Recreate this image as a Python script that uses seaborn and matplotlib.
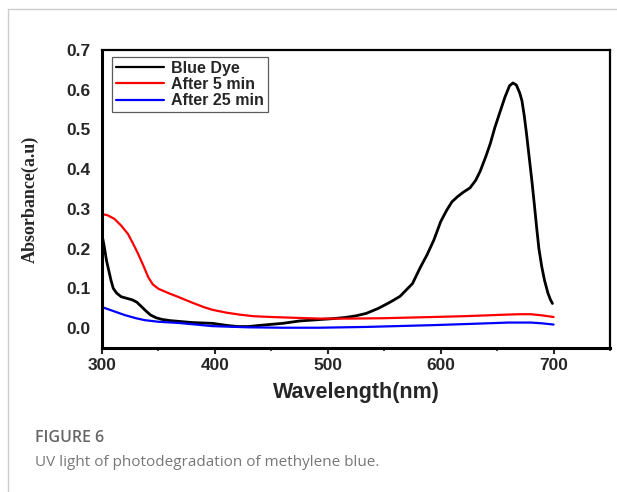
import numpy as np
import pandas as pd
import matplotlib
matplotlib.use("Agg")
import matplotlib.pyplot as plt
from matplotlib.lines import Line2D
from matplotlib.ticker import MultipleLocator, FormatStrFormatter
import seaborn as sns

# Spectra (wavelength in nm, absorbance in a.u.)
wl_dye = [300, 302, 304, 306, 308, 310, 313, 317, 322, 327, 331, 335, 339, 343,
          348, 353, 360, 368, 380, 398, 410, 420, 430, 440, 460, 475, 490, 505,
          516, 525, 534, 545, 555, 564, 575, 582, 588, 594, 600, 605, 610, 615,
          620, 626, 631, 635, 640, 644, 648, 653, 657, 661, 664, 667, 670, 672,
          674, 676, 678, 681, 683, 685, 687, 689.5, 692, 695, 697, 699]
abs_dye = [0.235, 0.205, 0.170, 0.145, 0.120, 0.100, 0.088, 0.079, 0.075, 0.071,
           0.065, 0.054, 0.043, 0.033, 0.026, 0.022, 0.019, 0.017, 0.014, 0.012,
           0.007, 0.004, 0.004, 0.007, 0.012, 0.018, 0.021, 0.024, 0.027, 0.031,
           0.037, 0.050, 0.065, 0.080, 0.112, 0.153, 0.185, 0.222, 0.268, 0.295,
           0.318, 0.331, 0.342, 0.353, 0.372, 0.395, 0.432, 0.465, 0.505, 0.548,
           0.582, 0.610, 0.617, 0.612, 0.592, 0.572, 0.535, 0.490, 0.440, 0.365,
           0.310, 0.253, 0.200, 0.155, 0.120, 0.088, 0.073, 0.062]

wl_5min = [300, 305, 311, 317, 323, 328, 332, 337, 341, 345, 350, 359, 368, 380,
           390, 398, 410, 422, 434, 450, 470, 493, 520, 550, 593, 620, 640, 658,
           670, 680, 690, 700]
abs_5min = [0.287, 0.284, 0.275, 0.258, 0.237, 0.210, 0.187, 0.155, 0.128, 0.110,
            0.099, 0.088, 0.078, 0.064, 0.053, 0.046, 0.039, 0.034, 0.030, 0.028,
            0.026, 0.024, 0.024, 0.025, 0.028, 0.030, 0.032, 0.034, 0.035, 0.035,
            0.032, 0.028]

wl_25min = [300, 310, 320, 330, 338, 350, 368, 398, 430, 460, 493, 534, 560, 593,
            630, 660, 680, 690, 700]
abs_25min = [0.053, 0.043, 0.033, 0.025, 0.020, 0.016, 0.013, 0.005, 0.002, 0.001,
             0.001, 0.003, 0.005, 0.0075, 0.011, 0.014, 0.014, 0.012, 0.009]

series_names = ["Blue Dye", "After 5 min", "After 25 min"]
series_colors = ["black", "#ff0000", "#0000ff"]

df = pd.concat([
    pd.DataFrame({"wl": wl_dye, "abs": abs_dye, "sample": series_names[0]}),
    pd.DataFrame({"wl": wl_5min, "abs": abs_5min, "sample": series_names[1]}),
    pd.DataFrame({"wl": wl_25min, "abs": abs_25min, "sample": series_names[2]}),
])

sns.set_style("white")
plt.rcParams["font.family"] = ["Liberation Sans", "DejaVu Sans"]

fig = plt.figure(figsize=(6.17, 4.92), dpi=100)
ax = fig.add_axes([0.1653, 0.2927, 0.8234, 0.6057])

sns.lineplot(data=df, x="wl", y="abs", hue="sample", hue_order=series_names,
             palette=dict(zip(series_names, series_colors)), estimator=None,
             sort=False, linewidth=1.6, ax=ax)
ax.lines[0].set_linewidth(2.0)

ax.set_xlim(300, 750)
ax.set_ylim(-0.05, 0.7)
ax.xaxis.set_major_locator(MultipleLocator(100))
ax.xaxis.set_minor_locator(MultipleLocator(50))
ax.yaxis.set_major_locator(MultipleLocator(0.1))
ax.yaxis.set_major_formatter(FormatStrFormatter("%.1f"))

ax.tick_params(axis="x", which="major", direction="out", length=4, width=1.5,
               pad=3, labelsize=12.5)
ax.tick_params(axis="x", which="minor", direction="out", length=2, width=1.2)
ax.tick_params(axis="y", which="major", length=0, pad=8, labelsize=12.5)
ax.tick_params(bottom=True, which="both")
for lab in ax.get_xticklabels() + ax.get_yticklabels():
    lab.set_fontweight("bold")

for side in ["left", "bottom"]:
    ax.spines[side].set_linewidth(2.2)
for side in ["top", "right"]:
    ax.spines[side].set_linewidth(1.6)
for sp in ax.spines.values():
    sp.set_color("black")

ax.set_xlabel("Wavelength(nm)", fontsize=15.5, fontweight="bold", labelpad=7)
ax.set_ylabel("Absorbance(a.u)", fontsize=13, fontweight="bold",
              family=["Liberation Serif"], labelpad=20)

leg = ax.legend(loc="upper left", bbox_to_anchor=(0.02, 0.978), borderaxespad=0,
                fancybox=False, frameon=True, handlelength=3.0, handletextpad=0.45,
                labelspacing=0.08, borderpad=0.25, prop={"weight": "bold", "size": 11.5})
leg.get_frame().set_edgecolor("#333333")
leg.get_frame().set_linewidth(0.9)
for h in leg.get_lines():
    h.set_linewidth(1.6)

# page frame and caption
fig.add_artist(Line2D([8 / 617, 8 / 617], [0, 1 - 9 / 492], color="#cccccc", lw=1))
fig.add_artist(Line2D([8 / 617, 1], [1 - 9 / 492, 1 - 9 / 492], color="#cccccc", lw=1))
fig.text(35 / 617, 1 - 438 / 492, "FIGURE 6", fontsize=11.5, color="#666666",
         family=["Open Sans", "DejaVu Sans"], fontweight="semibold", va="center")
fig.text(35 / 617, 1 - 462 / 492, "UV light of photodegradation of methylene blue.",
         fontsize=11, color="#777777", family=["Open Sans", "DejaVu Sans"], va="center")

fig.savefig("out.png", dpi=100)
